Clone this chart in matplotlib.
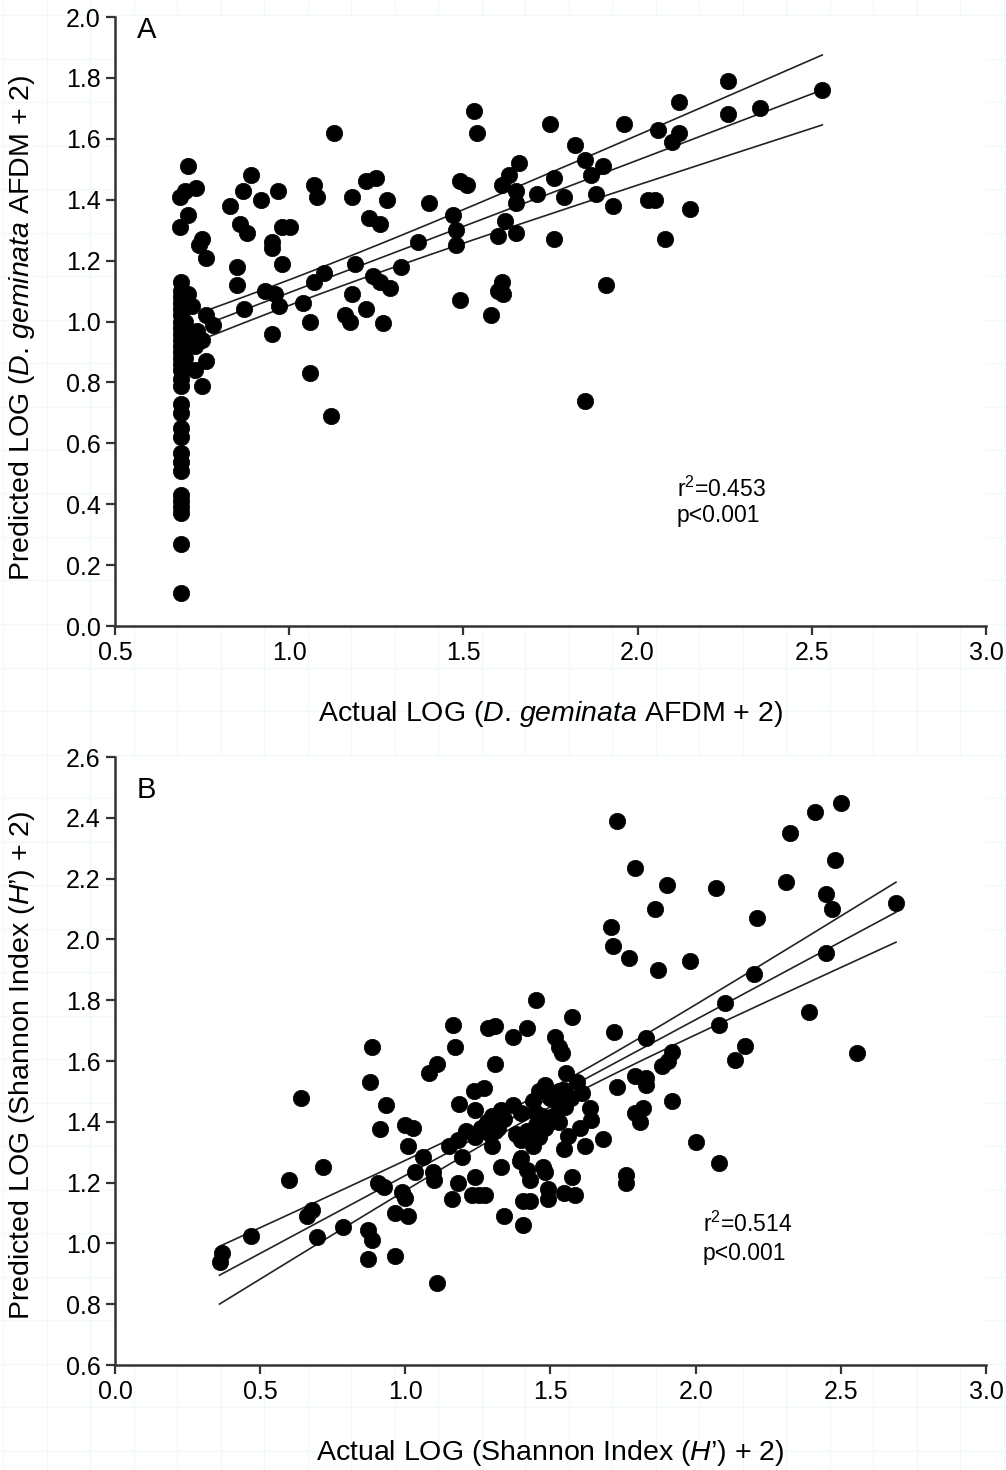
import matplotlib
matplotlib.use("Agg")
import matplotlib.pyplot as plt
import numpy as np

plt.rcParams['font.family'] = ['Liberation Sans', 'DejaVu Sans']
plt.rcParams['mathtext.fontset'] = 'custom'
plt.rcParams['mathtext.rm'] = 'Liberation Sans'
plt.rcParams['mathtext.it'] = 'Liberation Sans:italic'

# ---- panel A data (actual vs predicted LOG D. geminata AFDM + 2) ----
a_col_y = [0.11, 0.27, 0.37, 0.39, 0.41, 0.43, 0.51, 0.54, 0.57, 0.62, 0.65, 0.70, 0.73,
           0.79, 0.81, 0.84, 0.86, 0.88, 0.90, 0.92, 0.94, 0.96, 0.98, 1.00, 1.02, 1.04,
           1.06, 1.08, 1.10, 1.13]
a_col_x = [0.69] * len(a_col_y)
a_x = [0.71, 0.687, 0.70, 0.733, 0.71, 0.687, 0.75, 0.74, 0.76,
       0.76, 0.78, 0.75, 0.73, 0.76, 0.73, 0.75, 0.735, 0.71, 0.70, 0.71, 0.72, 0.70,
       0.83, 0.868, 0.89, 0.92, 0.86, 0.88, 0.85, 0.85, 0.968, 0.95, 0.95, 0.98, 1.003,
       0.98, 1.07, 1.08, 1.13, 1.18, 1.22, 1.25, 1.28, 1.23, 1.26, 1.40, 1.53, 1.54,
       1.49, 1.51, 1.47, 1.48, 1.48, 1.37, 1.32, 1.19, 1.10, 1.07, 0.93, 0.96, 0.97,
       0.87, 1.04, 1.18, 1.24, 1.26, 1.29, 1.22, 1.16, 1.175, 1.06, 1.27, 1.49, 1.61,
       1.60, 1.615, 1.58, 1.66, 1.63, 1.61, 1.65, 1.65, 1.71, 1.62, 1.60, 1.65, 1.75,
       1.76, 1.76, 1.96, 1.82, 1.85, 1.90, 1.865, 1.79, 1.88, 1.93, 2.03, 2.05, 2.15,
       2.08, 2.06, 2.12, 2.12, 2.10, 2.26, 2.26, 2.35, 2.53, 1.91, 1.85, 0.95, 1.06, 1.12]
a_y = [1.51, 1.41, 1.43, 1.44, 1.35, 1.31, 1.27, 1.25, 1.21,
       1.02, 0.99, 0.94, 0.92, 0.87, 0.84, 0.79, 0.97, 1.09, 1.00, 0.95, 1.05, 0.88,
       1.38, 1.43, 1.48, 1.40, 1.32, 1.29, 1.18, 1.12, 1.43, 1.26, 1.24, 1.31, 1.31,
       1.19, 1.45, 1.41, 1.62, 1.41, 1.46, 1.47, 1.40, 1.34, 1.32, 1.39, 1.69, 1.62,
       1.46, 1.45, 1.35, 1.30, 1.25, 1.26, 1.18, 1.19, 1.16, 1.13, 1.10, 1.09, 1.05,
       1.04, 1.06, 1.09, 1.15, 1.13, 1.11, 1.04, 1.02, 1.00, 1.00, 0.995, 1.07, 1.13,
       1.10, 1.09, 1.02, 1.52, 1.48, 1.45, 1.43, 1.39, 1.42, 1.33, 1.28, 1.29, 1.65,
       1.27, 1.47, 1.65, 1.58, 1.53, 1.51, 1.48, 1.41, 1.42, 1.38, 1.40, 1.40, 1.37,
       1.27, 1.63, 1.72, 1.62, 1.59, 1.79, 1.68, 1.70, 1.76, 1.12, 0.74, 0.96, 0.83, 0.69]
# fitted line and 95% band
a_fit = dict(b0=0.660, b1=0.435, xmin=0.77, xmax=2.53, xm=0.98, h0=0.042, k=0.069)

# ---- panel B data (Shannon index) ----
b_x = [0.36, 0.37, 0.47, 0.60, 0.64, 0.715, 0.66, 0.68, 0.695, 0.785, 0.87, 0.885, 0.87,
       0.965, 1.11, 0.885, 0.88, 0.935, 0.913, 1.0, 1.025, 1.01, 0.905, 0.925, 0.99, 1.0,
       0.965, 1.01, 1.06, 1.035, 1.095, 1.10, 1.08, 1.11, 1.165, 1.17, 1.185, 1.24, 1.235,
       1.27, 1.285, 1.31, 1.31, 1.37, 1.42, 1.45, 1.195, 1.18, 1.16, 1.24, 1.23, 1.255,
       1.275,
       1.15, 1.18, 1.21, 1.24, 1.26, 1.28, 1.30, 1.32, 1.29, 1.31, 1.33, 1.30, 1.34,
       1.37, 1.40, 1.38, 1.40, 1.42, 1.44, 1.46, 1.48, 1.33, 1.40, 1.42, 1.43, 1.475,
       1.48, 1.395, 1.34, 1.405, 1.405, 1.43, 1.49, 1.49,
       1.44, 1.46, 1.45, 1.47, 1.50, 1.45, 1.48, 1.50,
       1.555, 1.59, 1.545, 1.61, 1.635, 1.64, 1.60, 1.56, 1.68, 1.62, 1.545, 1.575, 1.585,
       1.545, 1.52, 1.53, 1.57, 1.55, 1.51, 1.53,
       1.515, 1.53, 1.54, 1.575,
       1.72, 1.83, 1.73, 1.79, 1.90, 2.07, 1.86, 1.71, 1.715, 1.77, 1.87, 1.98, 2.21, 2.31,
       2.325, 2.41, 2.50, 2.48, 2.45, 2.47, 2.69, 2.45, 2.20, 2.10, 2.08, 2.39, 2.17, 2.555,
       1.92, 2.135, 1.905, 1.885, 1.79, 1.83, 1.83, 1.73, 1.92, 1.79, 1.82, 1.81, 2.00,
       2.08, 1.76, 1.76]
b_y = [0.94, 0.97, 1.025, 1.21, 1.48, 1.25, 1.09, 1.11, 1.02, 1.055, 1.045, 1.01, 0.95,
       0.96, 0.87, 1.645, 1.53, 1.455, 1.375, 1.39, 1.38, 1.32, 1.20, 1.185, 1.17, 1.15,
       1.10, 1.09, 1.285, 1.235, 1.235, 1.21, 1.56, 1.59, 1.72, 1.645, 1.46, 1.44, 1.50,
       1.51, 1.71, 1.715, 1.59, 1.68, 1.71, 1.80, 1.285, 1.20, 1.145, 1.22, 1.16, 1.16,
       1.16,
       1.32, 1.34, 1.37, 1.35, 1.38, 1.40, 1.42, 1.38, 1.36, 1.37, 1.44, 1.32, 1.41,
       1.455, 1.43, 1.36, 1.34, 1.37, 1.32, 1.35, 1.38, 1.25, 1.28, 1.24, 1.21, 1.25,
       1.235, 1.27, 1.09, 1.06, 1.14, 1.14, 1.18, 1.145,
       1.47, 1.50, 1.43, 1.42, 1.40, 1.39, 1.52, 1.48,
       1.56, 1.53, 1.505, 1.495, 1.445, 1.405, 1.38, 1.355, 1.345, 1.32, 1.31, 1.22, 1.16,
       1.165, 1.47, 1.50, 1.48, 1.45, 1.42, 1.40,
       1.68, 1.645, 1.627, 1.745,
       1.695, 1.675, 2.39, 2.235, 2.18, 2.17, 2.10, 2.04, 1.98, 1.94, 1.90, 1.93, 2.07, 2.19,
       2.35, 2.42, 2.45, 2.26, 2.15, 2.10, 2.12, 1.955, 1.885, 1.79, 1.72, 1.76, 1.65, 1.625,
       1.63, 1.605, 1.60, 1.585, 1.55, 1.545, 1.52, 1.515, 1.47, 1.43, 1.445, 1.40, 1.335,
       1.265, 1.225, 1.20]
b_fit = dict(b0=0.711, b1=0.5125, xmin=0.36, xmax=2.69, xm=1.50, h0=0.030, k=0.079)

fig = plt.figure(figsize=(10.06, 14.7), dpi=100)

# faint graph-paper background
for gx in np.arange(3, 1006, 43.5):
    fig.add_artist(plt.Line2D([gx / 1006, gx / 1006], [0, 1], color='#eefafa', lw=0.8, zorder=-5))
for gy in np.arange(15, 1470, 43.5):
    fig.add_artist(plt.Line2D([0, 1], [1 - gy / 1470, 1 - gy / 1470], color='#eefafa', lw=0.8, zorder=-5))

axA = fig.add_axes([0.1143, 0.5741, 0.8658, 0.4143])
axB = fig.add_axes([0.1143, 0.0714, 0.8658, 0.4136])


def draw(ax, xs, ys, fit):
    xx = np.linspace(fit['xmin'], fit['xmax'], 200)
    yy = fit['b0'] + fit['b1'] * xx
    hw = np.sqrt(fit['h0'] ** 2 + (fit['k'] * (xx - fit['xm'])) ** 2)
    for line in (yy, yy + hw, yy - hw):
        ax.plot(xx, line, color='#222222', lw=1.2, zorder=2)
    ax.plot(xs, ys, 'o', color='black', ms=11.8, mec='black', mew=0.5, zorder=3,
            clip_on=False)
    for s in ('top', 'right'):
        ax.spines[s].set_visible(False)
    for s in ('left', 'bottom'):
        ax.spines[s].set_linewidth(1.8)
        ax.spines[s].set_color('#333333')
    ax.tick_params(direction='out', length=6.5, width=1.6, color='#333333',
                   labelsize=18, pad=4)
    ax.set_facecolor('white')


draw(axA, a_col_x + a_x, a_col_y + a_y, a_fit)
axA.set_xlim(0.5, 3.0)
axA.set_ylim(0.0, 2.0)
axA.set_xticks(np.arange(0.5, 3.01, 0.5))
axA.set_yticks(np.arange(0.0, 2.01, 0.2))
axA.xaxis.set_major_formatter('{x:.1f}')
axA.yaxis.set_major_formatter('{x:.1f}')
axA.set_xlabel(r'Actual LOG ($\mathit{D}$. $\mathit{geminata}$ AFDM + 2)', fontsize=20.5)
axA.set_ylabel(r'Predicted LOG ($\mathit{D}$. $\mathit{geminata}$ AFDM + 2)', fontsize=20.5)
axA.text(0.025, 0.966, 'A', transform=axA.transAxes, fontsize=21, va='baseline')
axA.text(2.112, 0.424, r'r$^{2}$=0.453', fontsize=16.5, va='baseline')
axA.text(2.112, 0.342, 'p<0.001', fontsize=16.5, va='baseline')

draw(axB, b_x, b_y, b_fit)
axB.set_xlim(0.0, 3.0)
axB.set_ylim(0.6, 2.6)
axB.set_xticks(np.arange(0.0, 3.01, 0.5))
axB.set_yticks(np.arange(0.6, 2.61, 0.2))
axB.xaxis.set_major_formatter('{x:.1f}')
axB.yaxis.set_major_formatter('{x:.1f}')
axB.set_xlabel(r"Actual LOG (Shannon Index ($\mathit{H}$’) + 2)", fontsize=20.5)
axB.set_ylabel(r"Predicted LOG (Shannon Index ($\mathit{H}$’) + 2)", fontsize=20.5)
axB.text(0.025, 0.933, 'B', transform=axB.transAxes, fontsize=21, va='baseline')
axB.text(2.025, 1.0375, r'r$^{2}$=0.514', fontsize=16.5, va='baseline')
axB.text(2.025, 0.945, 'p<0.001', fontsize=16.5, va='baseline')

for ax, ycen in ((axA, 0.489), (axB, 0.493)):
    ax.xaxis.label.set_va('center')
    ax.xaxis.set_label_coords(0.5, -0.1445)
    ax.yaxis.label.set_va('center')
    ax.yaxis.set_label_coords(-0.107, ycen)

fig.savefig('out.png', dpi=100, facecolor='white')
